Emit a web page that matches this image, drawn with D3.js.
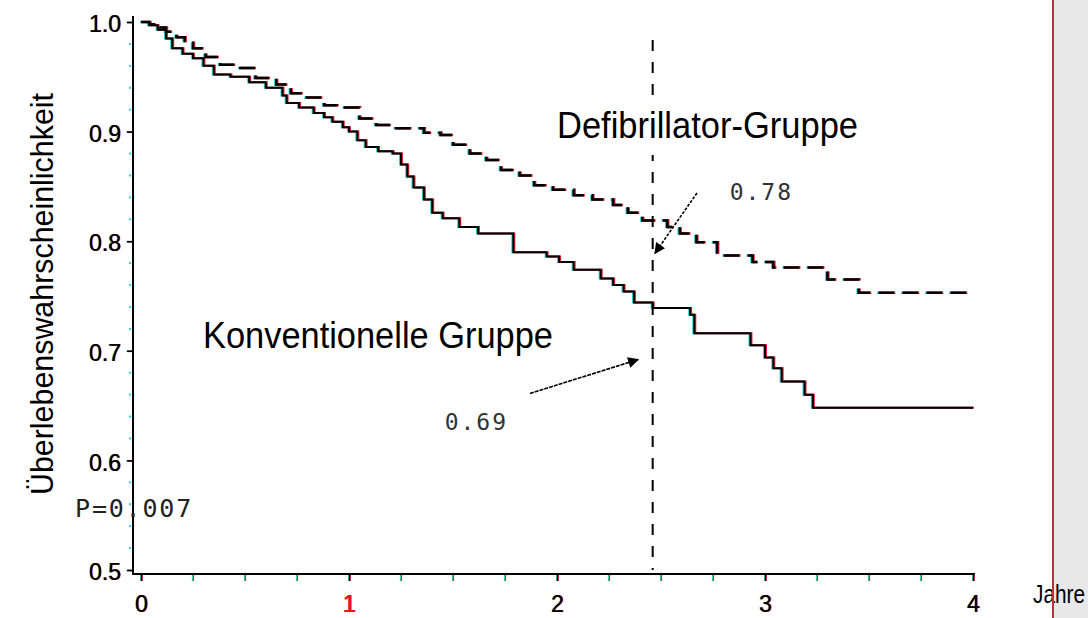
<!DOCTYPE html>
<html lang="de">
<head>
  <meta charset="UTF-8">
  <title>Überlebenswahrscheinlichkeit Defibrillator vs. konventionell</title>
  <script src="https://d3js.org/d3.v7.min.js"></script>
  <style>
    body { margin: 0; background: #fff; }
    svg { display: block; }
    .narrow { font-family: "Liberation Sans Narrow", "Arial Narrow", "Liberation Sans", sans-serif; }
    .mono { font-family: "DejaVu Sans Mono", "Liberation Mono", monospace; }
    .tick text { font-family: "Liberation Sans", Arial, sans-serif; font-size: 23px; }
  </style>
</head>
<body>
<div id="chart"></div>
<script>
// Kaplan-Meier steps (years, survival)
const konvTime = [0, 0.04, 0.08, 0.12, 0.15, 0.2, 0.25, 0.3, 0.35, 0.43, 0.52, 0.6, 0.68, 0.7, 0.76, 0.83, 0.88, 0.92, 0.97, 1.0,
  1.04, 1.08, 1.14, 1.21, 1.25, 1.28, 1.31, 1.36, 1.4, 1.45, 1.53, 1.62, 1.79, 1.95, 2.01, 2.08, 2.21, 2.27, 2.32, 2.37,
  2.46, 2.64, 2.66, 2.93, 3.0, 3.04, 3.08, 3.19, 3.23, 4.0];
const konvSurv = [1.0, 0.997, 0.993, 0.985, 0.976, 0.971, 0.967, 0.960, 0.952, 0.950, 0.945, 0.940, 0.933, 0.926, 0.922, 0.917, 0.913, 0.909, 0.904, 0.900,
  0.892, 0.886, 0.882, 0.880, 0.870, 0.859, 0.849, 0.838, 0.826, 0.821, 0.813, 0.807, 0.790, 0.786, 0.781, 0.774, 0.766, 0.760, 0.754, 0.744,
  0.739, 0.733, 0.716, 0.705, 0.694, 0.684, 0.672, 0.660, 0.648, 0.648];

const defiTime = [0, 0.04, 0.09, 0.12, 0.17, 0.21, 0.25, 0.31, 0.38, 0.46, 0.55, 0.65, 0.72, 0.79, 0.88, 0.97, 1.05, 1.13, 1.21, 1.36,
  1.44, 1.5, 1.58, 1.66, 1.73, 1.82, 1.89, 1.98, 2.08, 2.17, 2.27, 2.34, 2.41, 2.53, 2.59, 2.67, 2.77, 2.94, 3.04, 3.3, 3.45, 4.0];
const defiSurv = [1.0, 0.998, 0.995, 0.991, 0.986, 0.981, 0.976, 0.968, 0.961, 0.958, 0.949, 0.943, 0.935, 0.931, 0.924, 0.922, 0.912, 0.906, 0.903, 0.899,
  0.897, 0.888, 0.880, 0.874, 0.865, 0.860, 0.851, 0.847, 0.842, 0.838, 0.833, 0.826, 0.819, 0.813, 0.807, 0.799, 0.787, 0.781, 0.776, 0.765, 0.753, 0.753];

const xTicks = [0, 1, 2, 3, 4];
const yTicks = [0.5, 0.6, 0.7, 0.8, 0.9, 1.0];
const cutoff = 2.46;

const width = 1088, height = 618;

const svg = d3.select("#chart").append("svg")
  .attr("width", width)
  .attr("height", height);

svg.append("rect").attr("width", width).attr("height", height).attr("fill", "#fff");
svg.append("rect").attr("x", 1054).attr("width", width - 1054).attr("height", height).attr("fill", "#e8e8e8");

const x = d3.scaleLinear().domain([0, 4]).range([141, 973]);
const y = d3.scaleLinear().domain([0.5, 1.0]).range([570, 22]);

const defs = svg.append("defs");
defs.append("marker")
  .attr("id", "head")
  .attr("viewBox", "0 0 10 10")
  .attr("refX", 9).attr("refY", 5)
  .attr("markerWidth", 12).attr("markerHeight", 11)
  .attr("markerUnits", "userSpaceOnUse")
  .attr("orient", "auto")
  .append("path").attr("d", "M0,0L10,5L0,10z").attr("fill", "#000");

// colour fringes like the scanned original: cyan left, red right, black on top
const fringes = [["#2cd3d8", -1], ["#ee1c24", 1], ["#000", 0]];

const line = d3.line()
  .x(d => x(d[0]))
  .y(d => y(d[1]))
  .curve(d3.curveStepAfter);

const konv = d3.zip(konvTime, konvSurv);
const defi = d3.zip(defiTime, defiSurv);

// minor ticks
const yMinor = d3.range(0.52, 1.0, 0.02).filter(v => Math.abs(v * 10 - Math.round(v * 10)) > 0.01);
svg.append("g").selectAll("rect")
  .data(yMinor).join("rect")
  .attr("x", 129).attr("y", d => y(d) - 1)
  .attr("width", 2).attr("height", 2)
  .attr("fill", "#2cd3d8");

const xMinor = d3.range(0.25, 4, 0.25).filter(v => v % 1 !== 0);
fringes.slice(0, 2).forEach(([c, dx]) => {
  svg.append("g").selectAll("line")
    .data(xMinor).join("line")
    .attr("x1", d => x(d) + dx * 0.5).attr("x2", d => x(d) + dx * 0.5)
    .attr("y1", 574).attr("y2", 581)
    .attr("stroke", c).attr("stroke-width", 1.2);
});

// axes
fringes.forEach(([c, dx]) => {
  const gy = svg.append("g")
    .attr("transform", `translate(${133 + dx * 0.6},0)`)
    .call(d3.axisLeft(y).tickValues(yTicks).tickSize(6).tickSizeOuter(0).tickPadding(6).tickFormat(d3.format(".1f")));
  gy.select(".domain").remove();
  gy.selectAll("line").attr("stroke", c).attr("stroke-width", 1.5);
  gy.selectAll("text").attr("fill", c).attr("dy", "0.42em");

  const gx = svg.append("g")
    .attr("class", "xaxis")
    .attr("transform", `translate(${dx * 0.6},574)`)
    .call(d3.axisBottom(x).tickValues(xTicks).tickSize(7).tickSizeOuter(0).tickPadding(15).tickFormat(d3.format("d")));
  gx.select(".domain").remove();
  gx.selectAll("line").attr("stroke", c).attr("stroke-width", 1.5);
  gx.selectAll("text").attr("fill", c);
});
svg.selectAll(".xaxis .tick text").filter(d => d === 1).attr("fill", "#e8141c");

svg.append("line").attr("x1", 133).attr("x2", 133).attr("y1", 16).attr("y2", 575)
  .attr("stroke", "#000").attr("stroke-width", 2);
svg.append("line").attr("x1", 132).attr("x2", x(4) + 2).attr("y1", 574).attr("y2", 574)
  .attr("stroke", "#000").attr("stroke-width", 2);

// curves
fringes.forEach(([c, dx]) => {
  svg.append("path").datum(konv)
    .attr("transform", `translate(${dx},0)`)
    .attr("d", line)
    .attr("fill", "none").attr("stroke", c).attr("stroke-width", 2);
  svg.append("path").datum(defi)
    .attr("transform", `translate(${dx},0)`)
    .attr("d", line)
    .attr("fill", "none").attr("stroke", c).attr("stroke-width", 2.5)
    .attr("stroke-dasharray", "16,8");
});

// vertical cut at 2.46 years
svg.append("line")
  .attr("x1", x(cutoff)).attr("x2", x(cutoff))
  .attr("y1", 40).attr("y2", 570)
  .attr("stroke", "#000").attr("stroke-width", 2)
  .attr("stroke-dasharray", "11,11");

// group labels on white boxes
svg.append("rect").attr("x", 545).attr("y", 103).attr("width", 325).attr("height", 52).attr("fill", "#fff");
svg.append("text").attr("class", "narrow")
  .attr("x", x(2.0)).attr("y", y(0.894))
  .attr("font-size", 36).attr("textLength", 301).attr("lengthAdjust", "spacingAndGlyphs")
  .text("Defibrillator-Gruppe");

svg.append("rect").attr("x", 190).attr("y", 297).attr("width", 440).attr("height", 75).attr("fill", "#fff");
svg.append("text").attr("class", "narrow")
  .attr("x", x(0.298)).attr("y", y(0.703))
  .attr("font-size", 36).attr("textLength", 350).attr("lengthAdjust", "spacingAndGlyphs")
  .text("Konventionelle Gruppe");

// annotations
svg.append("line")
  .attr("x1", x(2.673)).attr("y1", y(0.844))
  .attr("x2", x(2.471)).attr("y2", y(0.789))
  .attr("stroke", "#000").attr("stroke-width", 1.6).attr("stroke-dasharray", "3,1.5")
  .attr("marker-end", "url(#head)");
svg.append("text").attr("class", "mono")
  .attr("x", x(2.83)).attr("y", y(0.838))
  .attr("font-size", 23).attr("letter-spacing", 2).attr("fill", "#333")
  .text("0.78");

svg.append("line")
  .attr("x1", x(1.87)).attr("y1", y(0.661))
  .attr("x2", x(2.39)).attr("y2", y(0.692))
  .attr("stroke", "#000").attr("stroke-width", 1.6).attr("stroke-dasharray", "4,1")
  .attr("marker-end", "url(#head)");
svg.append("text").attr("class", "mono")
  .attr("x", x(1.46)).attr("y", y(0.628))
  .attr("font-size", 23).attr("letter-spacing", 2).attr("fill", "#333")
  .text("0.69");

svg.append("text").attr("class", "mono")
  .attr("x", x(-0.317)).attr("y", y(0.548))
  .attr("font-size", 25).attr("letter-spacing", 1.8).attr("fill", "#222")
  .text("P=0.007");

// axis titles
svg.append("text").attr("class", "narrow")
  .attr("transform", "translate(53,294) rotate(-90)")
  .attr("text-anchor", "middle")
  .attr("font-size", 32).attr("textLength", 402).attr("lengthAdjust", "spacingAndGlyphs")
  .text("Überlebenswahrscheinlichkeit");

svg.append("text").attr("class", "narrow")
  .attr("x", 1033).attr("y", 603)
  .attr("font-size", 25).attr("textLength", 52).attr("lengthAdjust", "spacingAndGlyphs")
  .text("Jahre");

svg.append("line").attr("x1", 1053).attr("x2", 1053).attr("y1", 0).attr("y2", height)
  .attr("stroke", "#b8323f").attr("stroke-width", 2);
</script>
</body>
</html>
